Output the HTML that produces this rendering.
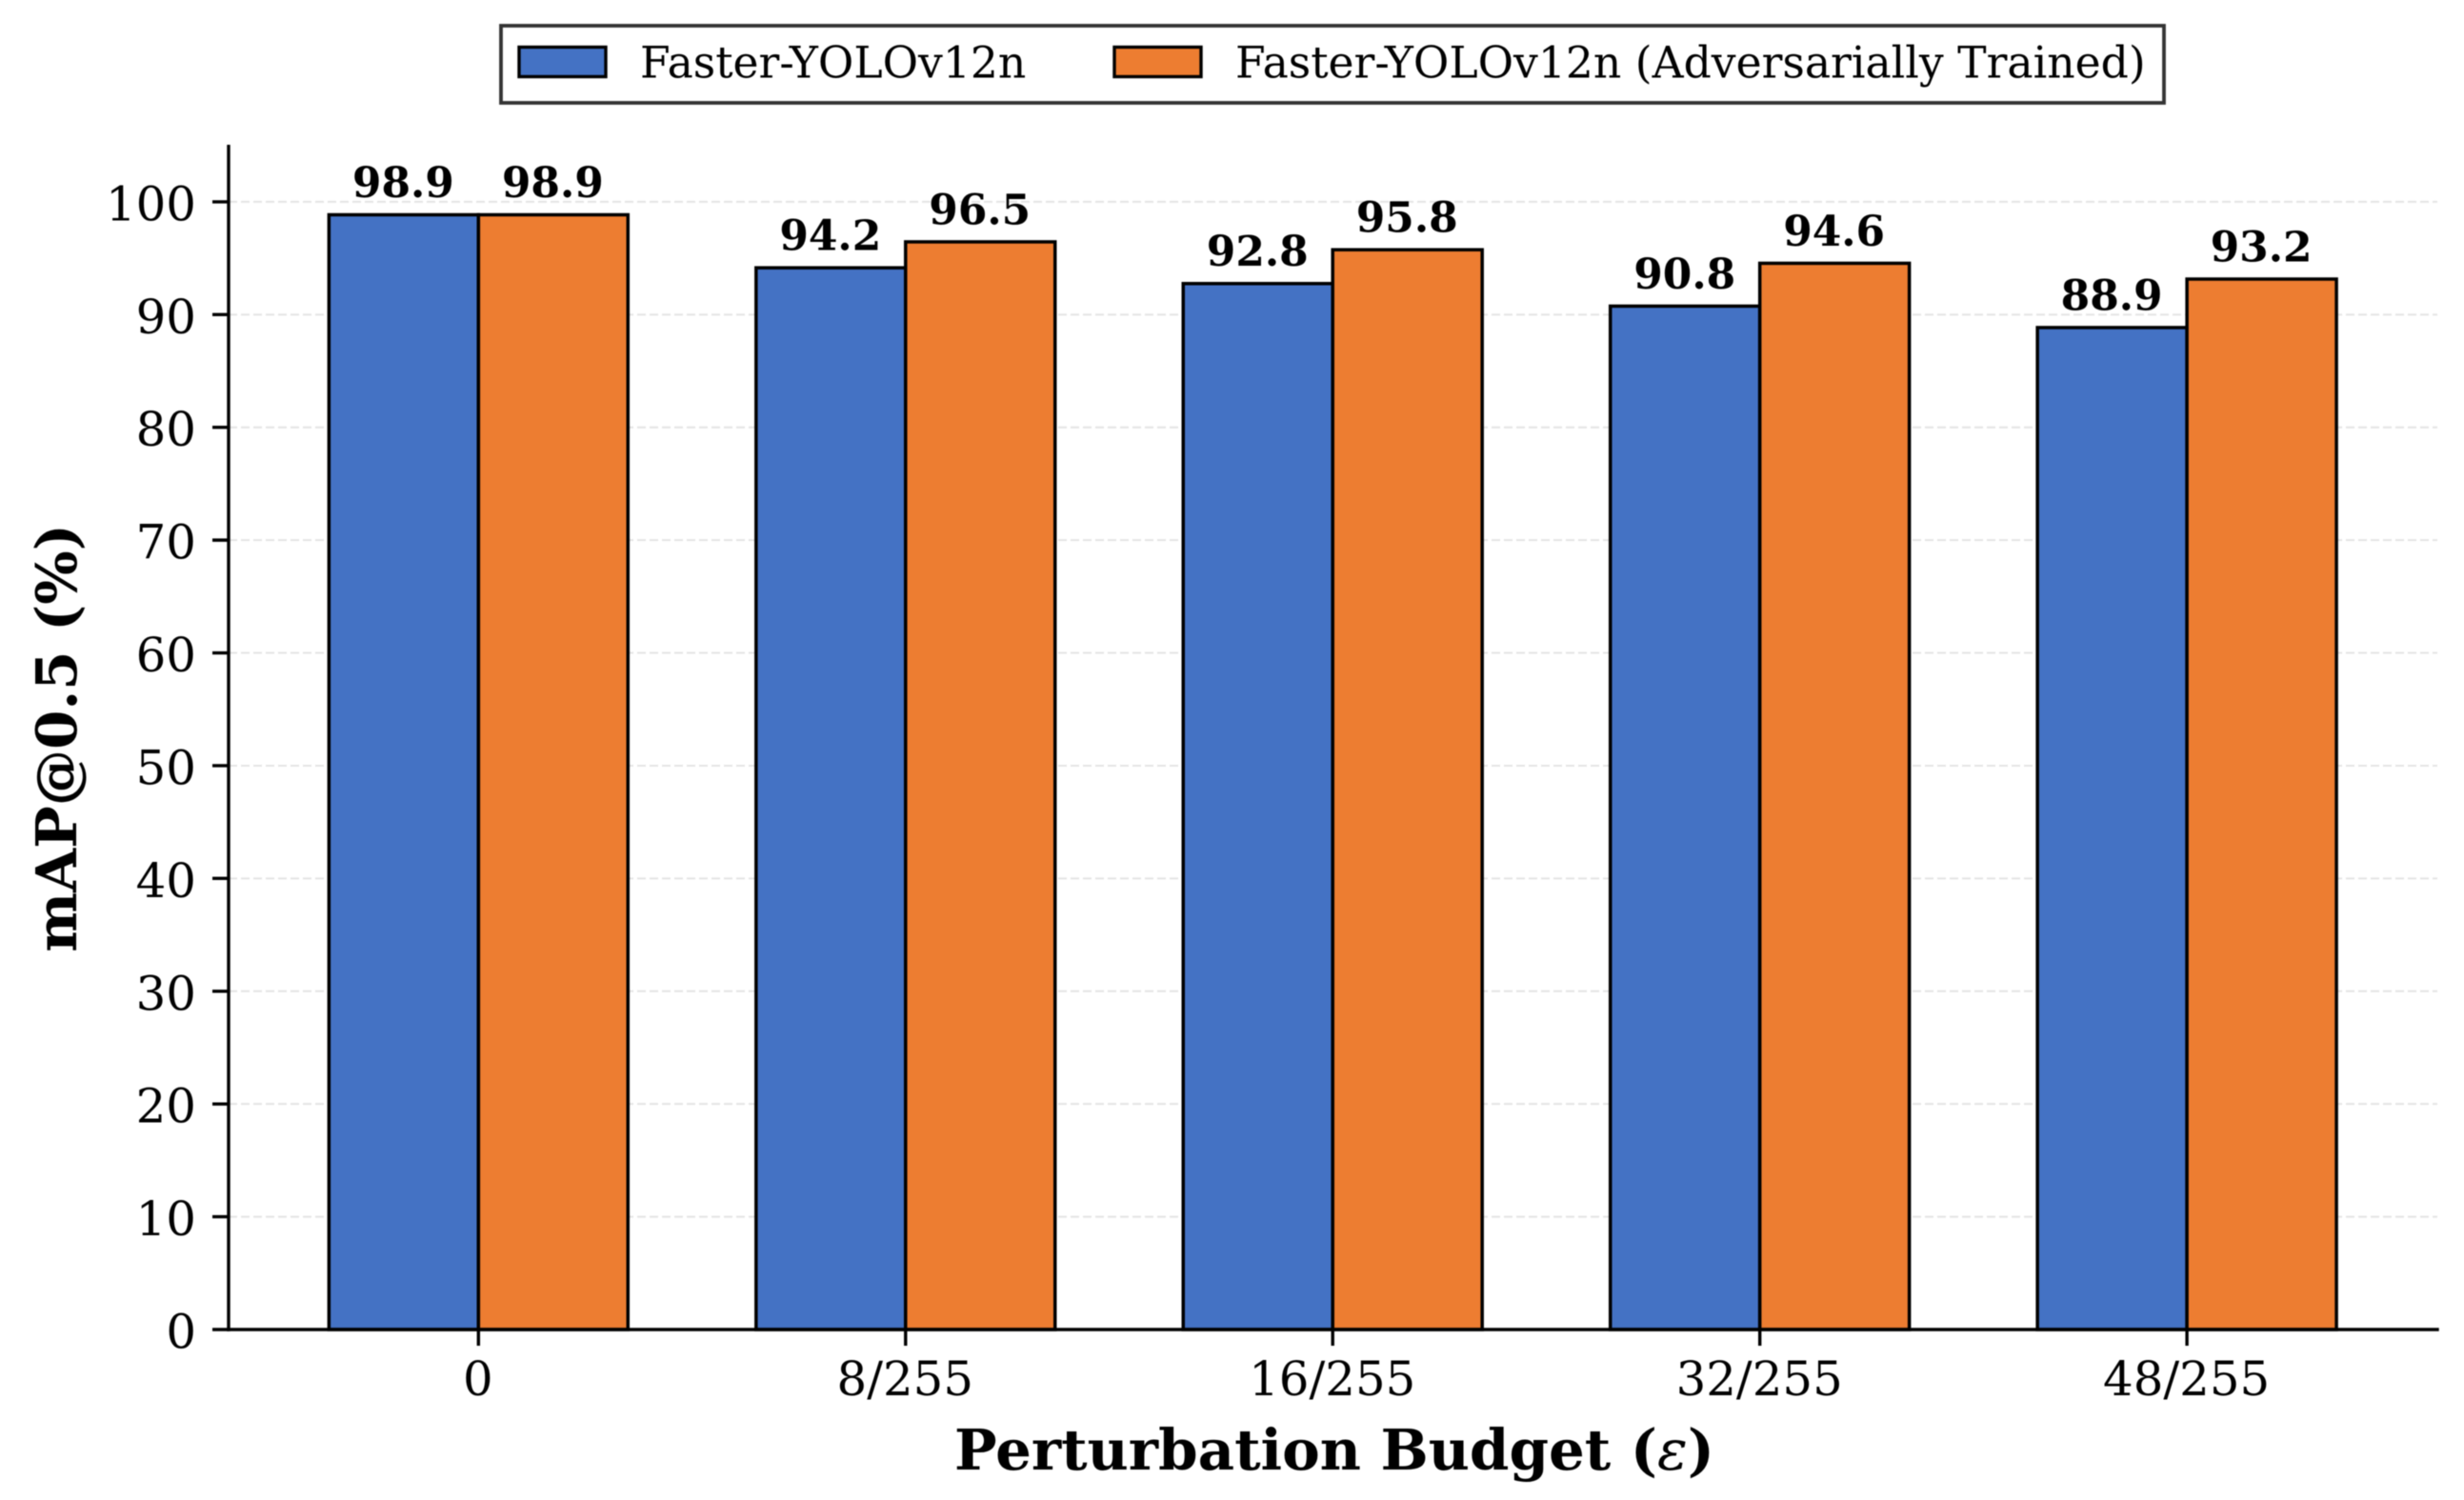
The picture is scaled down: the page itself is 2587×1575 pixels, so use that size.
<!DOCTYPE html>
<html lang="en">
<head>
<meta charset="utf-8">
<title>mAP@0.5 vs Perturbation Budget</title>
<style>
html,body{margin:0;padding:0;background:#fff;}
svg{display:block;font-family:"DejaVu Serif","Liberation Serif",serif;filter:blur(0.6px);}
</style>
</head>
<body>
<svg id="chart" xmlns="http://www.w3.org/2000/svg" width="2587" height="1575" viewBox="0 0 2587 1575">
  <rect x="0" y="0" width="2587" height="1575" fill="#ffffff"/>
  <g id="grid"></g>
  <g id="bars"></g>
  <g id="values"></g>
  <g id="axes"></g>
  <text x="1401" y="1543" text-anchor="middle" font-size="59.4" font-weight="bold" fill="#000">Perturbation Budget (<tspan font-style="italic" font-weight="normal">ε</tspan>)</text>
  <text transform="translate(80,775) rotate(-90)" text-anchor="middle" font-size="59.4" font-weight="bold" fill="#000">mAP@0.5 (%)</text>
  <g>
    <rect x="526" y="27" width="1746" height="81" fill="#ffffff" stroke="#333333" stroke-width="3.8"/>
    <rect x="545" y="49.5" width="91" height="31" fill="#4472C4" stroke="#000" stroke-width="3.4"/>
    <text x="672" y="81.5" font-size="45.65" fill="#000">Faster-YOLOv12n</text>
    <rect x="1170" y="49.5" width="91" height="31" fill="#ED7D31" stroke="#000" stroke-width="3.4"/>
    <text x="1297" y="81.5" font-size="45.65" fill="#000">Faster-YOLOv12n (Adversarially Trained)</text>
  </g>
</svg>
<script>
const categories = ["0", "8/255", "16/255", "32/255", "48/255"];
const baselineValues = [98.9, 94.2, 92.8, 90.8, 88.9];
const adversarialValues = [98.9, 96.5, 95.8, 94.6, 93.2];
const yTicks = [0, 10, 20, 30, 40, 50, 60, 70, 80, 90, 100];

const NS = "http://www.w3.org/2000/svg";
const plotLeft = 240, plotRight = 2560.7, plotBottom = 1396, plotTop = 152.7;
const yMax = 105, xMin = -0.585, xMax = 4.59, barSpan = 0.35;

function xScale(v) { return plotLeft + (v - xMin) / (xMax - xMin) * (plotRight - plotLeft); }
function yScale(v) { return plotBottom - v / yMax * (plotBottom - plotTop); }

function make(tag, attrs, parent) {
  const el = document.createElementNS(NS, tag);
  for (const k in attrs) el.setAttribute(k, attrs[k]);
  parent.appendChild(el);
  return el;
}

const gridG = document.getElementById("grid");
const barsG = document.getElementById("bars");
const valuesG = document.getElementById("values");
const axesG = document.getElementById("axes");

yTicks.forEach(function (t) {
  const y = yScale(t);
  if (t > 0) {
    const g = make("line", {x1: plotLeft, x2: 2559, y1: y, y2: y, stroke: "#e4e4e4", "stroke-width": 2, "stroke-dasharray": "9 4"}, gridG);
    
    
  }
  const tick = make("line", {x1: plotLeft - 17, x2: plotLeft, y1: y, y2: y, stroke: "#000", "stroke-width": 3.4}, axesG);
  
  
  const lab = make("text", {x: 206, y: y + 19.5, "text-anchor": "end", "font-size": 49.8, fill: "#000"}, axesG);
  lab.textContent = String(t);
  
  
});

function drawSeries(values, color, offsetStart, seriesName) {
  values.forEach(function (v, i) {
    const x0 = xScale(i + offsetStart);
    const x1 = xScale(i + offsetStart + barSpan);
    const top = yScale(v);
    const r = make("rect", {x: x0, y: top + 0.6, width: x1 - x0, height: yScale(0) - top - 0.6, fill: color, stroke: "#000", "stroke-width": 3.5}, barsG);
    
    
    const t = make("text", {x: (x0 + x1) / 2 - 0.5, y: top - 18, "text-anchor": "middle", "font-size": 43.9, "font-weight": "bold", fill: "#000"}, valuesG);
    t.textContent = v.toFixed(1);
    
    
  });
}
drawSeries(baselineValues, "#4472C4", -barSpan, "baseline");
drawSeries(adversarialValues, "#ED7D31", 0, "adversarial");

categories.forEach(function (c, i) {
  const x = xScale(i);
  const tick = make("line", {x1: x, x2: x, y1: plotBottom, y2: plotBottom + 17, stroke: "#000", "stroke-width": 3.4}, axesG);
  
  
  const lab = make("text", {x: x - 0.5, y: 1465, "text-anchor": "middle", "font-size": 49.8, fill: "#000"}, axesG);
  lab.textContent = c;
  
  
});

const ySpine = make("line", {x1: plotLeft, x2: plotLeft, y1: 152, y2: plotBottom + 1.7, stroke: "#000", "stroke-width": 3.4}, axesG);


const xSpine = make("line", {x1: plotLeft - 1.7, x2: plotRight, y1: plotBottom, y2: plotBottom, stroke: "#000", "stroke-width": 3.4}, axesG);


</script>
</body>
</html>
